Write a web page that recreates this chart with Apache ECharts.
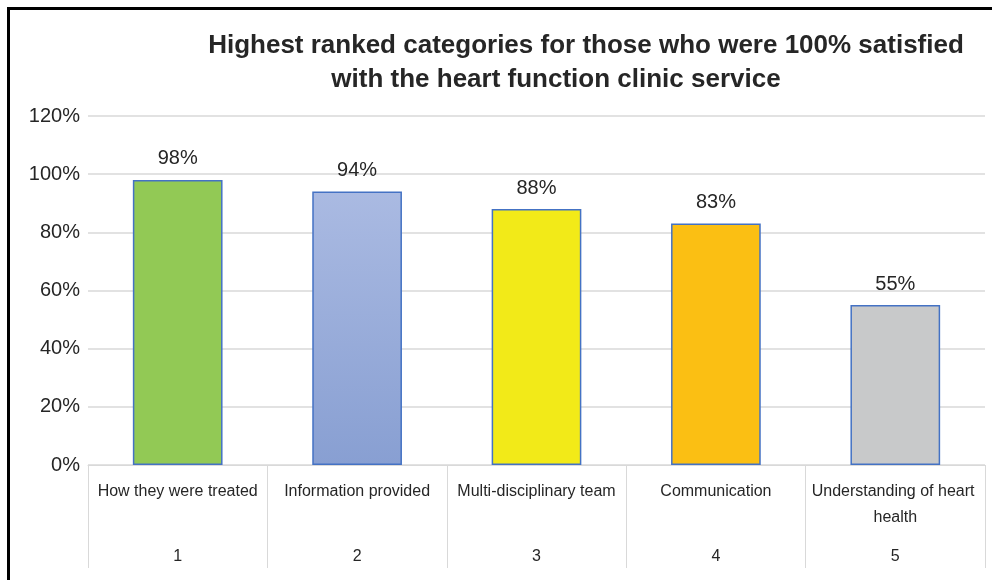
<!DOCTYPE html>
<html>
<head>
<meta charset="utf-8">
<script src="https://cdn.jsdelivr.net/npm/echarts@6/dist/echarts.min.js"></script>
<style>
html,body{margin:0;padding:0;background:#fff;}
#chart{width:992px;height:580px;}
</style>
</head>
<body>
<div id="chart"></div>
<script>
const titleLine1 = 'Highest ranked categories for those who were 100% satisfied';
const titleLine2 = 'with the heart function clinic service';
const categories = ['How they were treated', 'Information provided', 'Multi-disciplinary team', 'Communication', 'Understanding of heart health'];
const ranks = ['1', '2', '3', '4', '5'];
const values = [0.98, 0.94, 0.88, 0.83, 0.55];
const barColors = [
  '#92c955',
  {type: 'linear', x: 0, y: 0, x2: 0, y2: 1, colorStops: [{offset: 0, color: '#aabae2'}, {offset: 1, color: '#889fd2'}]},
  '#f2ea18',
  '#fbbf13',
  '#c8c9ca'
];

const FONT = "'Liberation Sans', Arial, sans-serif";
const chart = echarts.init(document.getElementById('chart'), null, {renderer: 'canvas'});
chart.setOption({
  animation: false,
  backgroundColor: '#ffffff',
  title: [
    {text: titleLine1, left: 581, top: 28, textAlign: 'center',
     textStyle: {fontFamily: FONT, fontSize: 26, fontWeight: 'bold', color: '#262626'}},
    {text: titleLine2, left: 551, top: 62, textAlign: 'center',
     textStyle: {fontFamily: FONT, fontSize: 26, fontWeight: 'bold', color: '#262626'}}
  ],
  graphic: [
    {type: 'polyline', silent: true, shape: {points: [[8.5, 580], [8.5, 8.5], [992, 8.5]]},
     style: {stroke: '#000', lineWidth: 3, fill: null}}
  ],
  grid: {left: 88, right: 7, top: 116, bottom: 115, containLabel: false},
  xAxis: [
    {
      type: 'category', data: categories, position: 'bottom',
      axisLine: {show: true, lineStyle: {color: '#d9d9d9', width: 1}},
      axisTick: {show: true, length: 103, lineStyle: {color: '#d9d9d9', width: 1}},
      axisLabel: {fontFamily: FONT, fontSize: 16, color: '#262626', margin: 14, lineHeight: 26,
                  width: 176, overflow: 'break', interval: 0}
    },
    {
      type: 'category', data: ranks, position: 'bottom',
      axisLine: {show: false}, axisTick: {show: false},
      axisLabel: {fontFamily: FONT, fontSize: 16, color: '#262626', margin: 84, interval: 0}
    }
  ],
  yAxis: {
    type: 'value', min: 0, max: 1.2, interval: 0.2,
    axisLine: {show: false}, axisTick: {show: false},
    splitLine: {lineStyle: {color: '#d9d9d9', width: 1.5}},
    axisLabel: {fontFamily: FONT, fontSize: 20, color: '#262626', margin: 8,
                formatter: v => Math.round(v * 100) + '%'}
  },
  series: [{
    type: 'bar', xAxisIndex: 0, barWidth: '50%',
    data: values.map((v, i) => ({value: v, itemStyle: {color: barColors[i]}})),
    itemStyle: {borderColor: '#4472c4', borderWidth: 1.5},
    label: {show: true, position: 'top', distance: 11, fontFamily: FONT, fontSize: 20, color: '#262626',
            formatter: p => Math.round(p.value * 100) + '%'}
  }]
});
</script>
</body>
</html>
